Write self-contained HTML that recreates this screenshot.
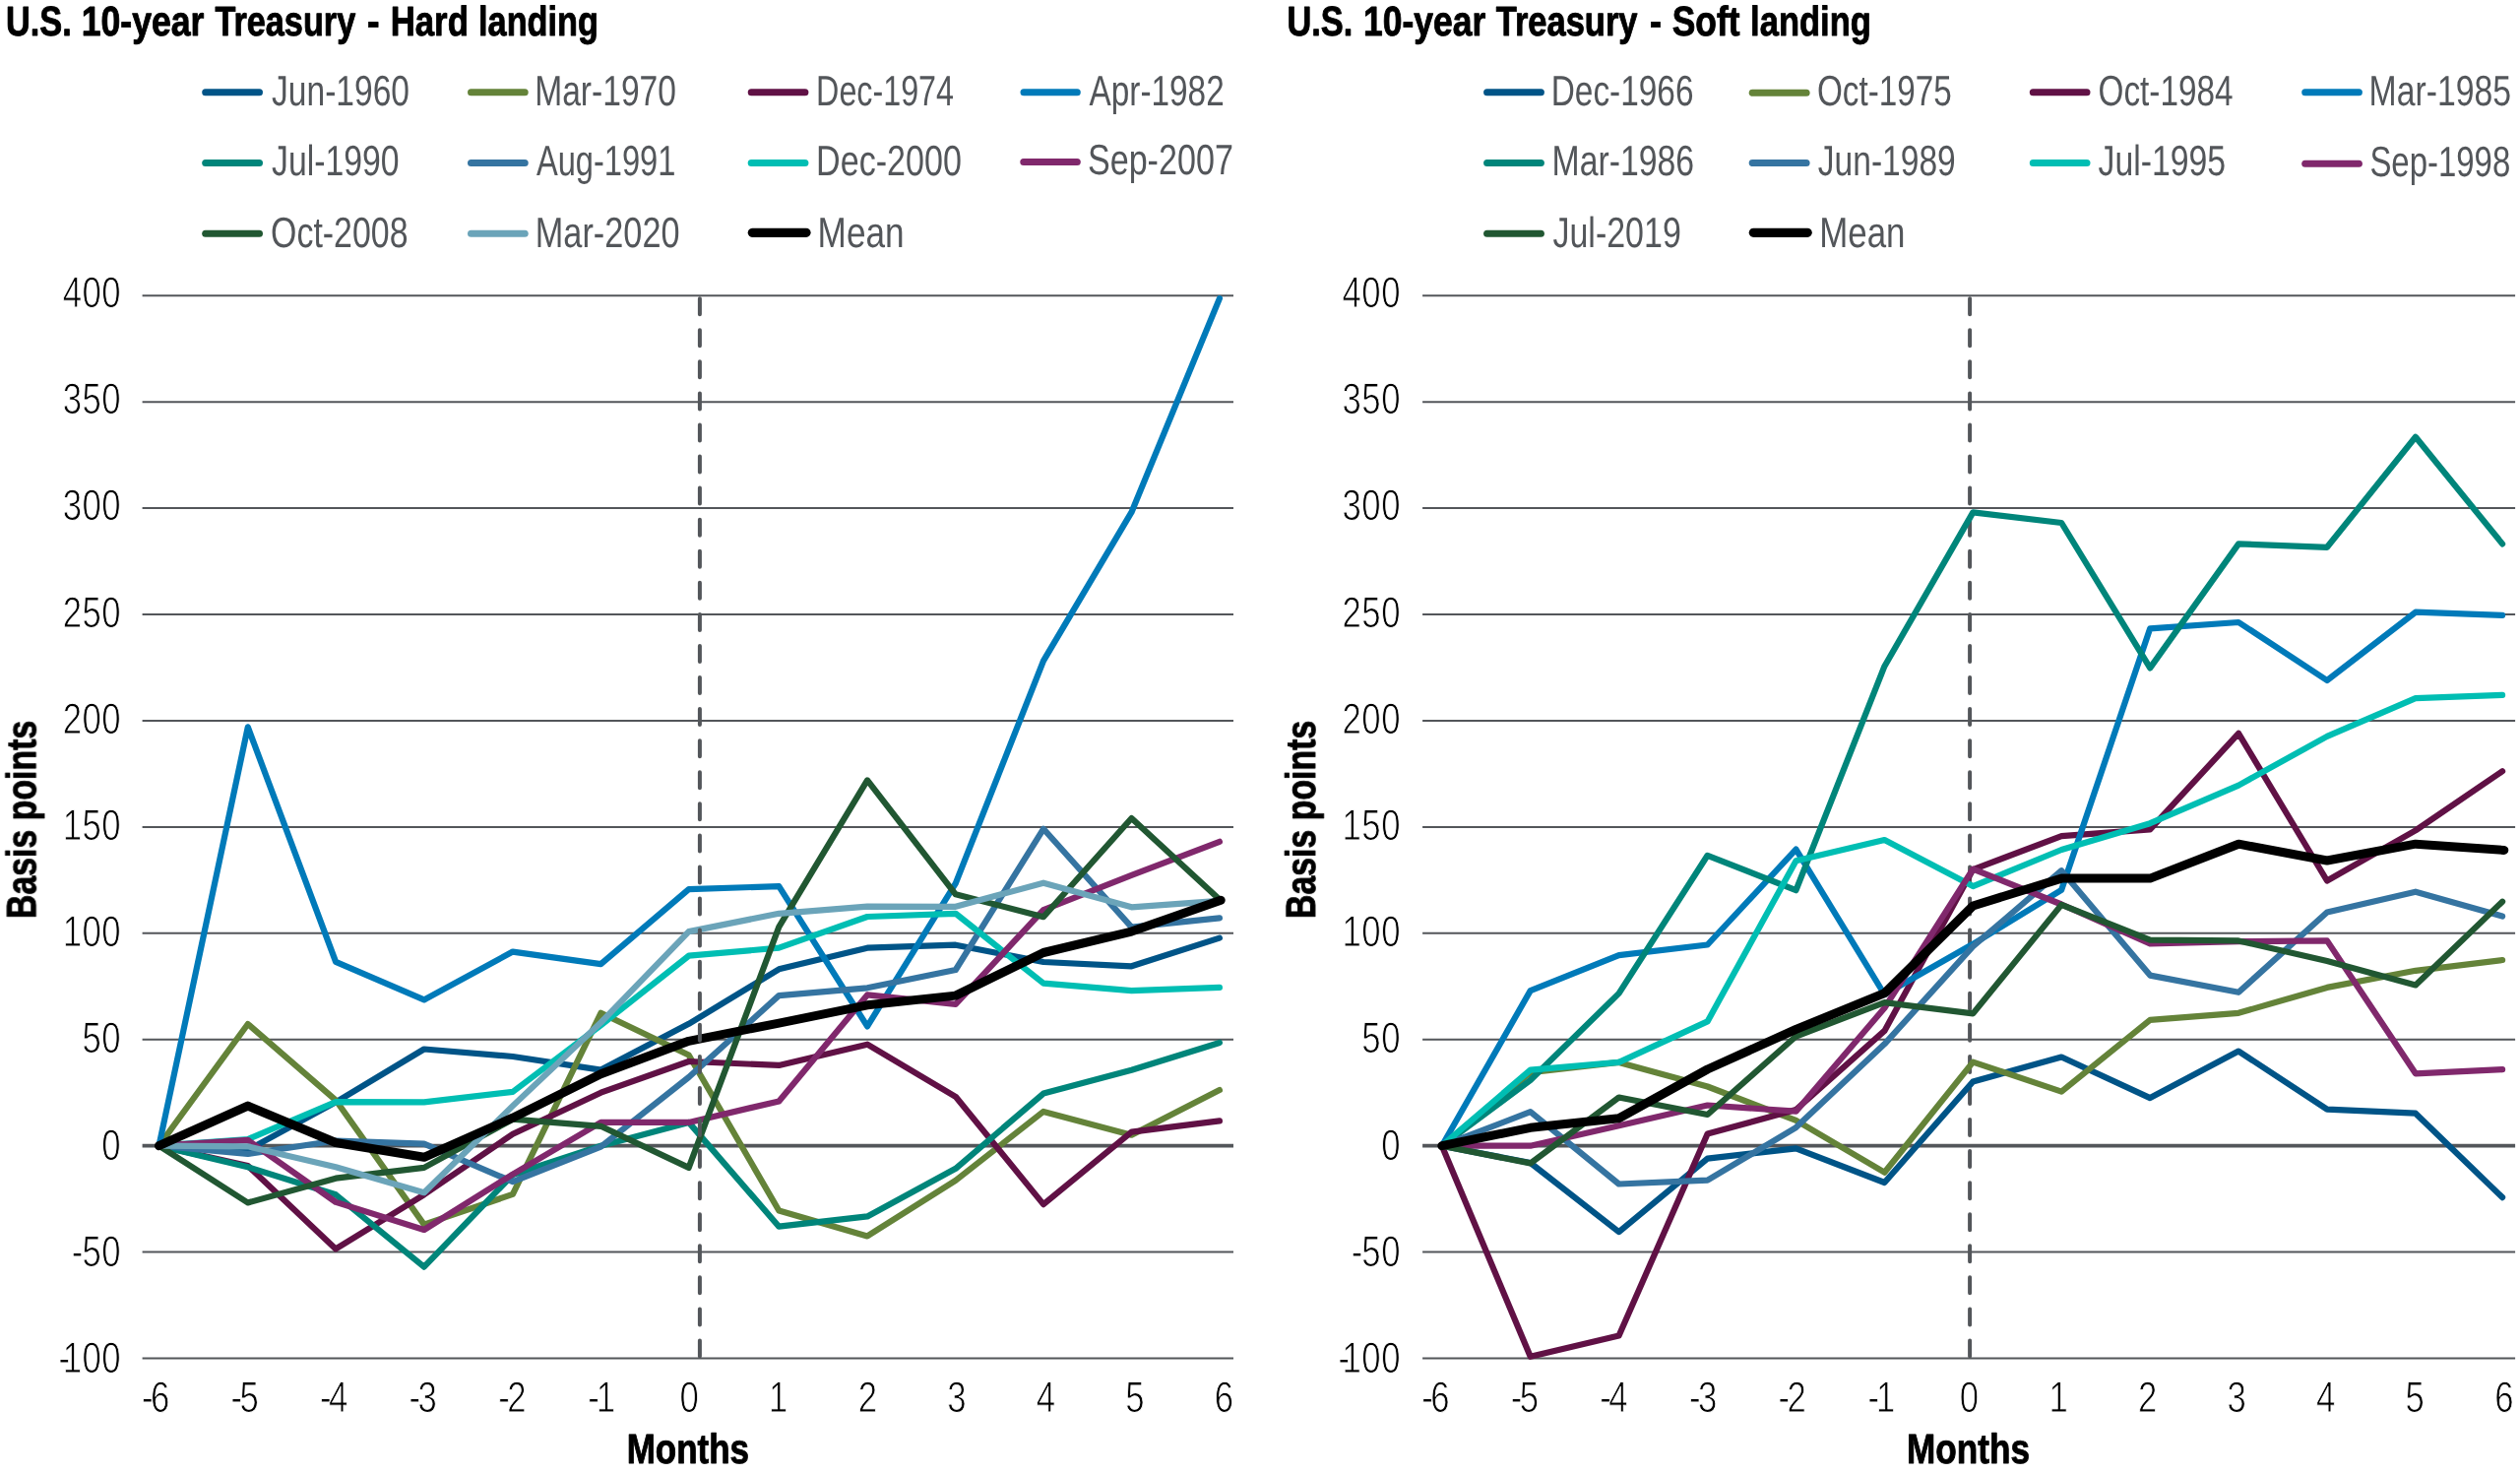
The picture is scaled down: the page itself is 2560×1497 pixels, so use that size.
<!DOCTYPE html>
<html lang="en"><head><meta charset="utf-8"><title>U.S. 10-year Treasury - Hard landing vs Soft landing</title>
<style>
html,body{margin:0;padding:0;background:#fff;}
body{width:2560px;height:1497px;overflow:hidden;font-family:"Liberation Sans", Arial, sans-serif;}
svg{display:block;font-family:"Liberation Sans", Arial, sans-serif;}
text{white-space:pre;text-rendering:geometricPrecision;}
.lt{stroke:#fff;stroke-width:0.9px;paint-order:fill stroke;}
.bd{stroke:#000;stroke-width:0.9px;stroke-linejoin:round;}
</style></head><body>
<svg width="2560" height="1497" viewBox="0 0 2560 1497">
<defs><filter id="noLcd" filterUnits="userSpaceOnUse" x="0" y="0" width="2560" height="1497" color-interpolation-filters="sRGB"><feOffset dx="0" dy="0"/></filter></defs>
<rect width="2560" height="1497" fill="#fff"/>
<g>
<line x1="208.7" y1="93.7" x2="263.5" y2="93.7" stroke="#005487" stroke-width="7.0" stroke-linecap="round"/>
<line x1="478.5" y1="93.7" x2="533.2" y2="93.7" stroke="#648339" stroke-width="7.0" stroke-linecap="round"/>
<line x1="763.2" y1="93.7" x2="817.9" y2="93.7" stroke="#601145" stroke-width="7.0" stroke-linecap="round"/>
<line x1="1040.0" y1="93.7" x2="1094.3" y2="93.7" stroke="#007AB9" stroke-width="7.0" stroke-linecap="round"/>
<line x1="208.7" y1="165.6" x2="263.5" y2="165.6" stroke="#00857A" stroke-width="7.0" stroke-linecap="round"/>
<line x1="478.5" y1="165.6" x2="533.2" y2="165.6" stroke="#3574A1" stroke-width="7.0" stroke-linecap="round"/>
<line x1="763.2" y1="165.6" x2="817.9" y2="165.6" stroke="#00BEB3" stroke-width="7.0" stroke-linecap="round"/>
<line x1="1039.8" y1="164.5" x2="1094.3" y2="164.5" stroke="#80286C" stroke-width="7.0" stroke-linecap="round"/>
<line x1="208.7" y1="237.2" x2="263.5" y2="237.2" stroke="#215732" stroke-width="7.0" stroke-linecap="round"/>
<line x1="478.5" y1="237.2" x2="533.2" y2="237.2" stroke="#6BA4B9" stroke-width="7.0" stroke-linecap="round"/>
<line x1="764.3" y1="236.3" x2="819.0" y2="236.3" stroke="#000000" stroke-width="9.2" stroke-linecap="round"/>
<line x1="144.6" y1="300.2" x2="1253.0" y2="300.2" stroke="#53565A" stroke-width="2.0"/>
<line x1="144.6" y1="408.2" x2="1253.0" y2="408.2" stroke="#53565A" stroke-width="2.0"/>
<line x1="144.6" y1="516.1" x2="1253.0" y2="516.1" stroke="#53565A" stroke-width="2.0"/>
<line x1="144.6" y1="624.0" x2="1253.0" y2="624.0" stroke="#53565A" stroke-width="2.0"/>
<line x1="144.6" y1="732.0" x2="1253.0" y2="732.0" stroke="#53565A" stroke-width="2.0"/>
<line x1="144.6" y1="839.9" x2="1253.0" y2="839.9" stroke="#53565A" stroke-width="2.0"/>
<line x1="144.6" y1="947.8" x2="1253.0" y2="947.8" stroke="#53565A" stroke-width="2.0"/>
<line x1="144.6" y1="1055.8" x2="1253.0" y2="1055.8" stroke="#53565A" stroke-width="2.0"/>
<line x1="144.6" y1="1163.7" x2="1253.0" y2="1163.7" stroke="#53565A" stroke-width="3.8"/>
<line x1="144.6" y1="1271.6" x2="1253.0" y2="1271.6" stroke="#53565A" stroke-width="2.0"/>
<line x1="144.6" y1="1379.5" x2="1253.0" y2="1379.5" stroke="#53565A" stroke-width="2.0"/>
<polyline points="161.5,1163.7 251.8,1168.0 341.1,1119.4 430.8,1065.5 520.9,1073.0 610.4,1086.6 699.7,1039.8 791.3,984.3 881.1,962.7 970.8,959.7 1060.0,977.0 1149.5,981.3 1238.9,952.6" fill="none" stroke="#005487" stroke-width="6.2" stroke-linecap="round" stroke-linejoin="round"/>
<polyline points="161.5,1163.7 251.8,1040.0 341.1,1117.3 430.8,1243.6 520.9,1212.9 610.4,1028.8 699.7,1071.5 791.3,1229.5 881.1,1255.4 970.8,1198.9 1060.0,1128.9 1149.5,1152.7 1238.9,1107.1" fill="none" stroke="#648339" stroke-width="6.2" stroke-linecap="round" stroke-linejoin="round"/>
<polyline points="161.5,1163.7 251.8,1184.0 341.1,1268.4 430.8,1213.3 520.9,1151.8 610.4,1109.7 699.7,1078.0 791.3,1081.9 881.1,1060.7 970.8,1113.8 1060.0,1223.1 1149.5,1149.7 1238.9,1138.4" fill="none" stroke="#601145" stroke-width="6.2" stroke-linecap="round" stroke-linejoin="round"/>
<polyline points="161.5,1163.7 251.8,738.4 341.1,976.8 430.8,1015.4 520.9,966.6 610.4,979.1 699.7,903.1 791.3,900.1 881.1,1042.4 970.8,897.1 1060.0,671.1 1149.5,520.2 1238.9,303.1" fill="none" stroke="#007AB9" stroke-width="6.2" stroke-linecap="round" stroke-linejoin="round"/>
<polyline points="161.5,1163.7 251.8,1185.3 341.1,1213.3 430.8,1286.7 520.9,1193.0 610.4,1163.7 699.7,1139.9 791.3,1245.7 881.1,1235.4 970.8,1186.8 1060.0,1110.6 1149.5,1086.8 1238.9,1059.0" fill="none" stroke="#00857A" stroke-width="6.2" stroke-linecap="round" stroke-linejoin="round"/>
<polyline points="161.5,1163.7 251.8,1171.9 341.1,1158.5 430.8,1161.7 520.9,1200.2 610.4,1164.6 699.7,1094.0 791.3,1011.1 881.1,1003.3 970.8,985.0 1060.0,841.8 1149.5,941.6 1238.9,932.3" fill="none" stroke="#3574A1" stroke-width="6.2" stroke-linecap="round" stroke-linejoin="round"/>
<polyline points="161.5,1163.7 251.8,1157.0 341.1,1119.2 430.8,1119.4 520.9,1108.9 610.4,1041.3 699.7,970.7 791.3,962.7 881.1,931.0 970.8,927.8 1060.0,998.6 1149.5,1006.1 1238.9,1002.9" fill="none" stroke="#00BEB3" stroke-width="6.2" stroke-linecap="round" stroke-linejoin="round"/>
<polyline points="161.5,1163.7 251.8,1157.9 341.1,1220.9 430.8,1249.0 520.9,1192.6 610.4,1139.9 699.7,1139.9 791.3,1118.4 881.1,1010.4 970.8,1019.9 1060.0,924.1 1149.5,888.9 1238.9,854.8" fill="none" stroke="#80286C" stroke-width="6.2" stroke-linecap="round" stroke-linejoin="round"/>
<polyline points="161.5,1163.7 251.8,1221.5 341.1,1196.7 430.8,1185.9 520.9,1136.7 610.4,1143.8 699.7,1185.9 791.3,941.4 881.1,792.4 970.8,908.3 1060.0,931.2 1149.5,831.0 1238.9,913.5" fill="none" stroke="#215732" stroke-width="6.2" stroke-linecap="round" stroke-linejoin="round"/>
<polyline points="161.5,1163.7 251.8,1164.3 341.1,1185.3 430.8,1211.2 520.9,1123.1 610.4,1038.5 699.7,946.1 791.3,927.8 881.1,920.6 970.8,920.8 1060.0,896.7 1149.5,921.3 1238.9,914.8" fill="none" stroke="#6BA4B9" stroke-width="6.2" stroke-linecap="round" stroke-linejoin="round"/>
<polyline points="161.5,1163.7 251.8,1123.1 341.1,1160.5 430.8,1175.3 520.9,1135.2 610.4,1090.7 699.7,1057.3 791.3,1039.1 881.1,1020.8 970.8,1011.1 1060.0,967.5 1149.5,946.1 1240.2,914.2" fill="none" stroke="#000000" stroke-width="9.0" stroke-linecap="round" stroke-linejoin="round"/>
<line x1="710.9" y1="303.2" x2="710.9" y2="1377.4" stroke="#53565A" stroke-width="4" stroke-linecap="round" stroke-dasharray="16 16.07"/>
</g>
<g>
<line x1="1510.6" y1="93.7" x2="1565.4" y2="93.7" stroke="#005487" stroke-width="7.0" stroke-linecap="round"/>
<line x1="1780.2" y1="94.2" x2="1835.1" y2="94.2" stroke="#648339" stroke-width="7.0" stroke-linecap="round"/>
<line x1="2065.3" y1="93.7" x2="2120.0" y2="93.7" stroke="#601145" stroke-width="7.0" stroke-linecap="round"/>
<line x1="2341.7" y1="93.7" x2="2396.4" y2="93.7" stroke="#007AB9" stroke-width="7.0" stroke-linecap="round"/>
<line x1="1510.6" y1="165.6" x2="1565.4" y2="165.6" stroke="#00857A" stroke-width="7.0" stroke-linecap="round"/>
<line x1="1780.2" y1="165.6" x2="1835.1" y2="165.6" stroke="#3574A1" stroke-width="7.0" stroke-linecap="round"/>
<line x1="2065.3" y1="165.6" x2="2120.0" y2="165.6" stroke="#00BEB3" stroke-width="7.0" stroke-linecap="round"/>
<line x1="2341.7" y1="166.2" x2="2396.4" y2="166.2" stroke="#80286C" stroke-width="7.0" stroke-linecap="round"/>
<line x1="1510.6" y1="237.2" x2="1565.4" y2="237.2" stroke="#215732" stroke-width="7.0" stroke-linecap="round"/>
<line x1="1781.3" y1="236.3" x2="1836.2" y2="236.3" stroke="#000000" stroke-width="9.2" stroke-linecap="round"/>
<line x1="1445.1" y1="300.2" x2="2555.1" y2="300.2" stroke="#53565A" stroke-width="2.0"/>
<line x1="1445.1" y1="408.2" x2="2555.1" y2="408.2" stroke="#53565A" stroke-width="2.0"/>
<line x1="1445.1" y1="516.1" x2="2555.1" y2="516.1" stroke="#53565A" stroke-width="2.0"/>
<line x1="1445.1" y1="624.0" x2="2555.1" y2="624.0" stroke="#53565A" stroke-width="2.0"/>
<line x1="1445.1" y1="732.0" x2="2555.1" y2="732.0" stroke="#53565A" stroke-width="2.0"/>
<line x1="1445.1" y1="839.9" x2="2555.1" y2="839.9" stroke="#53565A" stroke-width="2.0"/>
<line x1="1445.1" y1="947.8" x2="2555.1" y2="947.8" stroke="#53565A" stroke-width="2.0"/>
<line x1="1445.1" y1="1055.8" x2="2555.1" y2="1055.8" stroke="#53565A" stroke-width="2.0"/>
<line x1="1445.1" y1="1163.7" x2="2555.1" y2="1163.7" stroke="#53565A" stroke-width="3.8"/>
<line x1="1445.1" y1="1271.6" x2="2555.1" y2="1271.6" stroke="#53565A" stroke-width="2.0"/>
<line x1="1445.1" y1="1379.5" x2="2555.1" y2="1379.5" stroke="#53565A" stroke-width="2.0"/>
<line x1="2001.1" y1="303.2" x2="2001.1" y2="1377.4" stroke="#53565A" stroke-width="4" stroke-linecap="round" stroke-dasharray="16 16.07"/>
<polyline points="1464.8,1163.7 1554.7,1181.0 1644.6,1251.1 1734.6,1176.6 1824.5,1166.3 1914.4,1201.0 2004.3,1098.5 2094.2,1073.5 2184.2,1115.1 2274.1,1067.6 2364.0,1126.6 2453.9,1130.7 2542.1,1216.1" fill="none" stroke="#005487" stroke-width="6.2" stroke-linecap="round" stroke-linejoin="round"/>
<polyline points="1464.8,1163.7 1554.7,1089.2 1644.6,1078.9 1734.6,1103.5 1824.5,1137.8 1914.4,1190.7 2004.3,1078.6 2094.2,1108.6 2184.2,1035.9 2274.1,1028.8 2364.0,1002.9 2453.9,985.8 2542.1,975.0" fill="none" stroke="#648339" stroke-width="6.2" stroke-linecap="round" stroke-linejoin="round"/>
<polyline points="1464.8,1163.7 1554.7,1377.8 1644.6,1356.5 1734.6,1151.6 1824.5,1127.0 1914.4,1046.9 2004.3,883.1 2094.2,849.2 2184.2,842.3 2274.1,744.9 2364.0,894.5 2453.9,843.4 2542.1,783.3" fill="none" stroke="#601145" stroke-width="6.2" stroke-linecap="round" stroke-linejoin="round"/>
<polyline points="1464.8,1163.7 1554.7,1006.1 1644.6,970.1 1734.6,959.5 1824.5,862.6 1914.4,1010.0 2004.3,958.8 2094.2,903.8 2184.2,638.3 2274.1,632.0 2364.0,691.0 2453.9,621.7 2542.1,624.9" fill="none" stroke="#007AB9" stroke-width="6.2" stroke-linecap="round" stroke-linejoin="round"/>
<polyline points="1464.8,1163.7 1554.7,1097.0 1644.6,1008.9 1734.6,868.8 1824.5,904.2 1914.4,676.7 2004.3,520.4 2094.2,531.0 2184.2,678.4 2274.1,552.4 2364.0,555.8 2453.9,443.8 2542.1,552.4" fill="none" stroke="#00857A" stroke-width="6.2" stroke-linecap="round" stroke-linejoin="round"/>
<polyline points="1464.8,1163.7 1554.7,1129.2 1644.6,1202.5 1734.6,1198.7 1824.5,1145.1 1914.4,1060.3 2004.3,961.2 2094.2,884.2 2184.2,990.6 2274.1,1007.8 2364.0,926.5 2453.9,905.7 2542.1,930.6" fill="none" stroke="#3574A1" stroke-width="6.2" stroke-linecap="round" stroke-linejoin="round"/>
<polyline points="1464.8,1163.7 1554.7,1086.6 1644.6,1078.9 1734.6,1037.4 1824.5,874.2 1914.4,853.1 2004.3,900.1 2094.2,863.0 2184.2,836.2 2274.1,797.6 2364.0,747.9 2453.9,709.1 2542.1,705.9" fill="none" stroke="#00BEB3" stroke-width="6.2" stroke-linecap="round" stroke-linejoin="round"/>
<polyline points="1464.8,1163.7 1554.7,1163.7 1644.6,1143.2 1734.6,1122.5 1824.5,1128.7 1914.4,1023.8 2004.3,882.6 2094.2,918.5 2184.2,958.4 2274.1,956.2 2364.0,955.4 2453.9,1090.3 2542.1,1086.2" fill="none" stroke="#80286C" stroke-width="6.2" stroke-linecap="round" stroke-linejoin="round"/>
<polyline points="1464.8,1163.7 1554.7,1181.4 1644.6,1114.5 1734.6,1132.0 1824.5,1052.5 1914.4,1018.2 2004.3,1029.4 2094.2,918.9 2184.2,954.7 2274.1,955.4 2364.0,976.1 2453.9,1000.5 2542.1,915.7" fill="none" stroke="#215732" stroke-width="6.2" stroke-linecap="round" stroke-linejoin="round"/>
<polyline points="1464.8,1163.7 1554.7,1145.3 1644.6,1135.8 1734.6,1086.0 1824.5,1045.4 1914.4,1008.7 2004.3,920.0 2094.2,892.1 2184.2,892.1 2274.1,857.2 2364.0,874.0 2453.9,857.2 2543.8,863.4" fill="none" stroke="#000000" stroke-width="9.0" stroke-linecap="round" stroke-linejoin="round"/>
</g>
<g filter="url(#noLcd)">
<text class="bd" y="36.3" font-size="42.2" fill="#000" font-weight="bold"><tspan x="6.0" textLength="66.8" lengthAdjust="spacingAndGlyphs">U.S.</tspan> <tspan x="82.7" textLength="124.8" lengthAdjust="spacingAndGlyphs">10-year</tspan> <tspan x="218.4" textLength="142.8" lengthAdjust="spacingAndGlyphs">Treasury</tspan> <tspan x="373.0" textLength="12.6" lengthAdjust="spacingAndGlyphs">-</tspan> <tspan x="396.7" textLength="79.2" lengthAdjust="spacingAndGlyphs">Hard</tspan> <tspan x="486.1" textLength="121.8" lengthAdjust="spacingAndGlyphs">landing</tspan></text>
<text x="276.0" y="106.9" font-size="43.4" fill="#53565A" font-weight="normal" text-anchor="start" textLength="140.0" lengthAdjust="spacingAndGlyphs">Jun-1960</text>
<text x="543.2" y="106.9" font-size="43.4" fill="#53565A" font-weight="normal" text-anchor="start" textLength="143.8" lengthAdjust="spacingAndGlyphs">Mar-1970</text>
<text x="829.1" y="106.9" font-size="43.4" fill="#53565A" font-weight="normal" text-anchor="start" textLength="139.9" lengthAdjust="spacingAndGlyphs">Dec-1974</text>
<text x="1106.5" y="106.9" font-size="43.4" fill="#53565A" font-weight="normal" text-anchor="start" textLength="137.2" lengthAdjust="spacingAndGlyphs">Apr-1982</text>
<text x="276.0" y="178.3" font-size="43.4" fill="#53565A" font-weight="normal" text-anchor="start" textLength="129.6" lengthAdjust="spacingAndGlyphs">Jul-1990</text>
<text x="544.9" y="178.3" font-size="43.4" fill="#53565A" font-weight="normal" text-anchor="start" textLength="141.5" lengthAdjust="spacingAndGlyphs">Aug-1991</text>
<text x="829.1" y="178.3" font-size="43.4" fill="#53565A" font-weight="normal" text-anchor="start" textLength="147.8" lengthAdjust="spacingAndGlyphs">Dec-2000</text>
<text x="1104.9" y="177.2" font-size="43.4" fill="#53565A" font-weight="normal" text-anchor="start" textLength="148.0" lengthAdjust="spacingAndGlyphs">Sep-2007</text>
<text x="275.1" y="250.6" font-size="43.4" fill="#53565A" font-weight="normal" text-anchor="start" textLength="139.4" lengthAdjust="spacingAndGlyphs">Oct-2008</text>
<text x="543.8" y="250.6" font-size="43.4" fill="#53565A" font-weight="normal" text-anchor="start" textLength="146.8" lengthAdjust="spacingAndGlyphs">Mar-2020</text>
<text x="830.6" y="250.6" font-size="43.4" fill="#53565A" font-weight="normal" text-anchor="start" textLength="88.0" lengthAdjust="spacingAndGlyphs">Mean</text>
<text class="lt" transform="translate(0,311.95) scale(0.788,1)" x="80.76 105.88 131.01" y="0" font-size="44.1" fill="#000">400</text>
<text class="lt" transform="translate(0,420.16) scale(0.788,1)" x="80.76 105.88 131.01" y="0" font-size="44.1" fill="#000">350</text>
<text class="lt" transform="translate(0,528.37) scale(0.788,1)" x="80.76 105.88 131.01" y="0" font-size="44.1" fill="#000">300</text>
<text class="lt" transform="translate(0,636.58) scale(0.788,1)" x="80.76 105.88 131.01" y="0" font-size="44.1" fill="#000">250</text>
<text class="lt" transform="translate(0,744.79) scale(0.788,1)" x="80.76 105.88 131.01" y="0" font-size="44.1" fill="#000">200</text>
<text class="lt" transform="translate(0,853.00) scale(0.788,1)" x="80.76 105.88 131.01" y="0" font-size="44.1" fill="#000">150</text>
<text class="lt" transform="translate(0,961.21) scale(0.788,1)" x="80.76 105.88 131.01" y="0" font-size="44.1" fill="#000">100</text>
<text class="lt" transform="translate(0,1069.42) scale(0.788,1)" x="105.88 131.01" y="0" font-size="44.1" fill="#000">50</text>
<text class="lt" transform="translate(0,1177.63) scale(0.788,1)" x="131.01" y="0" font-size="44.1" fill="#000">0</text>
<text class="lt" transform="translate(0,1285.84) scale(0.788,1)" x="92.35 105.88 131.01" y="0" font-size="44.1" fill="#000">-50</text>
<text class="lt" transform="translate(0,1394.05) scale(0.788,1)" x="75.60 80.76 105.88 131.01" y="0" font-size="44.1" fill="#000">-100</text>
<text class="lt" transform="translate(0,1433.90) scale(0.788,1)" x="182.70 194.08" y="0" font-size="44.1" fill="#000">-6</text>
<text class="lt" transform="translate(0,1433.90) scale(0.788,1)" x="297.62 308.99" y="0" font-size="44.1" fill="#000">-5</text>
<text class="lt" transform="translate(0,1433.90) scale(0.788,1)" x="412.53 423.90" y="0" font-size="44.1" fill="#000">-4</text>
<text class="lt" transform="translate(0,1433.90) scale(0.788,1)" x="527.44 538.81" y="0" font-size="44.1" fill="#000">-3</text>
<text class="lt" transform="translate(0,1433.90) scale(0.788,1)" x="642.35 653.73" y="0" font-size="44.1" fill="#000">-2</text>
<text class="lt" transform="translate(0,1433.90) scale(0.788,1)" x="757.83 768.64" y="0" font-size="44.1" fill="#000">-1</text>
<text class="lt" transform="translate(0,1433.90) scale(0.788,1)" x="876.31" y="0" font-size="44.1" fill="#000">0</text>
<text class="lt" transform="translate(0,1433.90) scale(0.788,1)" x="991.23" y="0" font-size="44.1" fill="#000">1</text>
<text class="lt" transform="translate(0,1433.90) scale(0.788,1)" x="1106.14" y="0" font-size="44.1" fill="#000">2</text>
<text class="lt" transform="translate(0,1433.90) scale(0.788,1)" x="1221.05" y="0" font-size="44.1" fill="#000">3</text>
<text class="lt" transform="translate(0,1433.90) scale(0.788,1)" x="1335.96" y="0" font-size="44.1" fill="#000">4</text>
<text class="lt" transform="translate(0,1433.90) scale(0.788,1)" x="1450.87" y="0" font-size="44.1" fill="#000">5</text>
<text class="lt" transform="translate(0,1433.90) scale(0.788,1)" x="1565.78" y="0" font-size="44.1" fill="#000">6</text>
<text x="636.7" y="1486.4" font-size="42.4" fill="#000" font-weight="bold" text-anchor="start" textLength="124.3" lengthAdjust="spacingAndGlyphs" class="bd">Months</text>
<text transform="translate(36.3,933.1) rotate(-90)" font-size="42.4" fill="#000" font-weight="bold" class="bd" textLength="201.3" lengthAdjust="spacingAndGlyphs">Basis points</text>
<text class="bd" y="36.3" font-size="42.2" fill="#000" font-weight="bold"><tspan x="1307.4" textLength="66.8" lengthAdjust="spacingAndGlyphs">U.S.</tspan> <tspan x="1385.1" textLength="124.1" lengthAdjust="spacingAndGlyphs">10-year</tspan> <tspan x="1519.8" textLength="143.7" lengthAdjust="spacingAndGlyphs">Treasury</tspan> <tspan x="1676.0" textLength="11.9" lengthAdjust="spacingAndGlyphs">-</tspan> <tspan x="1698.8" textLength="68.7" lengthAdjust="spacingAndGlyphs">Soft</tspan> <tspan x="1778.1" textLength="122.8" lengthAdjust="spacingAndGlyphs">landing</tspan></text>
<text x="1575.7" y="106.9" font-size="43.4" fill="#53565A" font-weight="normal" text-anchor="start" textLength="144.8" lengthAdjust="spacingAndGlyphs">Dec-1966</text>
<text x="1845.9" y="107.4" font-size="43.4" fill="#53565A" font-weight="normal" text-anchor="start" textLength="136.8" lengthAdjust="spacingAndGlyphs">Oct-1975</text>
<text x="2131.5" y="106.9" font-size="43.4" fill="#53565A" font-weight="normal" text-anchor="start" textLength="137.0" lengthAdjust="spacingAndGlyphs">Oct-1984</text>
<text x="2406.5" y="106.9" font-size="43.4" fill="#53565A" font-weight="normal" text-anchor="start" textLength="144.6" lengthAdjust="spacingAndGlyphs">Mar-1985</text>
<text x="1576.5" y="178.3" font-size="43.4" fill="#53565A" font-weight="normal" text-anchor="start" textLength="144.6" lengthAdjust="spacingAndGlyphs">Mar-1986</text>
<text x="1846.8" y="178.3" font-size="43.4" fill="#53565A" font-weight="normal" text-anchor="start" textLength="140.0" lengthAdjust="spacingAndGlyphs">Jun-1989</text>
<text x="2131.5" y="178.3" font-size="43.4" fill="#53565A" font-weight="normal" text-anchor="start" textLength="129.5" lengthAdjust="spacingAndGlyphs">Jul-1995</text>
<text x="2407.4" y="178.9" font-size="43.4" fill="#53565A" font-weight="normal" text-anchor="start" textLength="142.8" lengthAdjust="spacingAndGlyphs">Sep-1998</text>
<text x="1577.5" y="250.6" font-size="43.4" fill="#53565A" font-weight="normal" text-anchor="start" textLength="130.3" lengthAdjust="spacingAndGlyphs">Jul-2019</text>
<text x="1848.3" y="250.6" font-size="43.4" fill="#53565A" font-weight="normal" text-anchor="start" textLength="87.2" lengthAdjust="spacingAndGlyphs">Mean</text>
<text class="lt" transform="translate(0,311.95) scale(0.788,1)" x="1730.38 1755.50 1780.63" y="0" font-size="44.1" fill="#000">400</text>
<text class="lt" transform="translate(0,420.16) scale(0.788,1)" x="1730.38 1755.50 1780.63" y="0" font-size="44.1" fill="#000">350</text>
<text class="lt" transform="translate(0,528.37) scale(0.788,1)" x="1730.38 1755.50 1780.63" y="0" font-size="44.1" fill="#000">300</text>
<text class="lt" transform="translate(0,636.58) scale(0.788,1)" x="1730.38 1755.50 1780.63" y="0" font-size="44.1" fill="#000">250</text>
<text class="lt" transform="translate(0,744.79) scale(0.788,1)" x="1730.38 1755.50 1780.63" y="0" font-size="44.1" fill="#000">200</text>
<text class="lt" transform="translate(0,853.00) scale(0.788,1)" x="1730.38 1755.50 1780.63" y="0" font-size="44.1" fill="#000">150</text>
<text class="lt" transform="translate(0,961.21) scale(0.788,1)" x="1730.38 1755.50 1780.63" y="0" font-size="44.1" fill="#000">100</text>
<text class="lt" transform="translate(0,1069.42) scale(0.788,1)" x="1755.50 1780.63" y="0" font-size="44.1" fill="#000">50</text>
<text class="lt" transform="translate(0,1177.63) scale(0.788,1)" x="1780.63" y="0" font-size="44.1" fill="#000">0</text>
<text class="lt" transform="translate(0,1285.84) scale(0.788,1)" x="1741.97 1755.50 1780.63" y="0" font-size="44.1" fill="#000">-50</text>
<text class="lt" transform="translate(0,1394.05) scale(0.788,1)" x="1725.22 1730.38 1755.50 1780.63" y="0" font-size="44.1" fill="#000">-100</text>
<text class="lt" transform="translate(0,1433.90) scale(0.788,1)" x="1832.83 1844.21" y="0" font-size="44.1" fill="#000">-6</text>
<text class="lt" transform="translate(0,1433.90) scale(0.788,1)" x="1947.74 1959.12" y="0" font-size="44.1" fill="#000">-5</text>
<text class="lt" transform="translate(0,1433.90) scale(0.788,1)" x="2062.65 2074.03" y="0" font-size="44.1" fill="#000">-4</text>
<text class="lt" transform="translate(0,1433.90) scale(0.788,1)" x="2177.56 2188.94" y="0" font-size="44.1" fill="#000">-3</text>
<text class="lt" transform="translate(0,1433.90) scale(0.788,1)" x="2292.48 2303.85" y="0" font-size="44.1" fill="#000">-2</text>
<text class="lt" transform="translate(0,1433.90) scale(0.788,1)" x="2407.96 2418.76" y="0" font-size="44.1" fill="#000">-1</text>
<text class="lt" transform="translate(0,1433.90) scale(0.788,1)" x="2526.44" y="0" font-size="44.1" fill="#000">0</text>
<text class="lt" transform="translate(0,1433.90) scale(0.788,1)" x="2641.35" y="0" font-size="44.1" fill="#000">1</text>
<text class="lt" transform="translate(0,1433.90) scale(0.788,1)" x="2756.26" y="0" font-size="44.1" fill="#000">2</text>
<text class="lt" transform="translate(0,1433.90) scale(0.788,1)" x="2871.17" y="0" font-size="44.1" fill="#000">3</text>
<text class="lt" transform="translate(0,1433.90) scale(0.788,1)" x="2986.09" y="0" font-size="44.1" fill="#000">4</text>
<text class="lt" transform="translate(0,1433.90) scale(0.788,1)" x="3101.00" y="0" font-size="44.1" fill="#000">5</text>
<text class="lt" transform="translate(0,1433.90) scale(0.788,1)" x="3215.91" y="0" font-size="44.1" fill="#000">6</text>
<text x="1937.1" y="1486.4" font-size="42.4" fill="#000" font-weight="bold" text-anchor="start" textLength="124.9" lengthAdjust="spacingAndGlyphs" class="bd">Months</text>
<text transform="translate(1335.9,933.1) rotate(-90)" font-size="42.4" fill="#000" font-weight="bold" class="bd" textLength="201.3" lengthAdjust="spacingAndGlyphs">Basis points</text>
</g>
</svg></body></html>
